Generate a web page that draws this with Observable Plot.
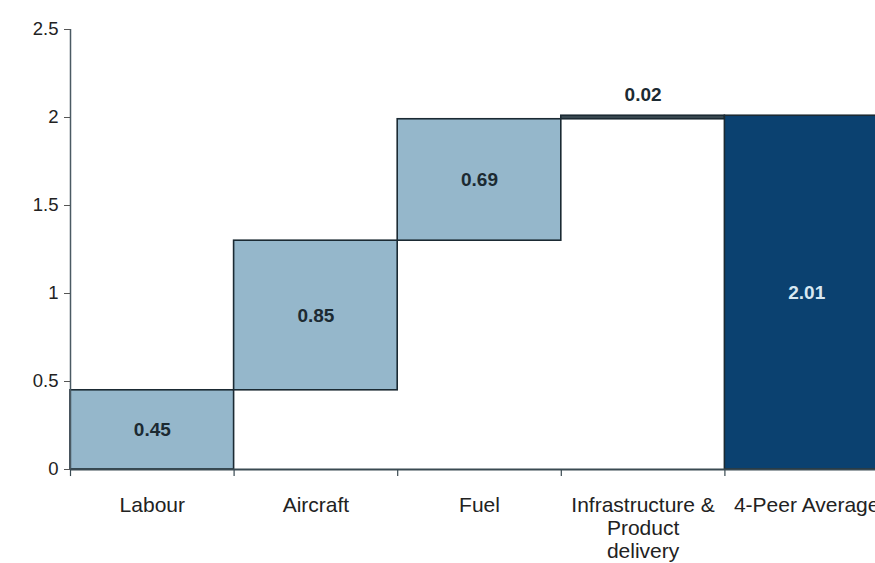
<!DOCTYPE html>
<html>
<head>
<meta charset="utf-8">
<script src="https://cdn.jsdelivr.net/npm/d3@7"></script>
<script src="https://cdn.jsdelivr.net/npm/@observablehq/plot@0.6"></script>
<style>
  html, body { margin: 0; padding: 0; background: #fff; }
  #chart svg { display: block; }
</style>
</head>
<body>
<div id="chart"></div>
<script>
const categories = ["Labour", "Aircraft", "Fuel", "Infrastructure &\nProduct\ndelivery", "4-Peer Average"];
const increments = [0.45, 0.85, 0.69, 0.02];
const totalValue = 2.01;
const valueLabels = ["0.45", "0.85", "0.69", "0.02", "2.01"];
const yTicks = [0, 0.5, 1, 1.5, 2, 2.5];

// Build waterfall table
let run = 0;
const bars = categories.map((c, i) => {
  if (i < increments.length) {
    const start = run;
    run += increments[i];
    return {i, cat: c, y1: start, y2: run, total: false, label: valueLabels[i]};
  }
  return {i, cat: c, y1: 0, y2: totalValue, total: true, label: valueLabels[i]};
});
const isThin = d => d.y2 - d.y1 < 0.1;
const boundaries = d3.range(categories.length);

const chart = Plot.plot({
  width: 875,
  height: 563,
  marginTop: 29,
  marginBottom: 94,
  marginLeft: 70,
  marginRight: 0,
  style: {fontFamily: "Liberation Sans, Arial, sans-serif", background: "#fff"},
  x: {type: "linear", domain: [0, categories.length], range: [70, 888], axis: null},
  y: {type: "linear", domain: [0, 2.5], axis: null},
  marks: [
    Plot.rect(bars, {
      x1: d => d.i, x2: d => d.i + 1, y1: "y1", y2: "y2",
      fill: d => d.total ? "#0b4170" : isThin(d) ? "#3a4a52" : "#95b7cb",
      stroke: "#1b2a33", strokeWidth: 1.6
    }),
    // y axis
    Plot.ruleX([0], {y1: 0, y2: 2.5, stroke: "#4a5a63", strokeWidth: 1.5}),
    Plot.axisY(yTicks, {tickSize: 6, tickFormat: d => String(d), fontSize: 18.5, color: "#222", stroke: "#555", tickPadding: 6}),
    // x axis line
    Plot.ruleY([0], {stroke: "#3a4a52", strokeWidth: 2.2}),
    Plot.ruleX(boundaries, {y1: 0, y2: -0.04, stroke: "#3a4a52", strokeWidth: 1.2}),
    // category labels
    Plot.text(bars, {
      x: d => d.i + 0.5, y: 0, text: "cat", lineAnchor: "top", dy: 26,
      fontSize: 21, lineHeight: 1.1, fill: "#222"
    }),
    // value labels inside bars
    Plot.text(bars.filter(d => !isThin(d)), {
      x: d => d.i + 0.5,
      y: d => (d.y1 + d.y2) / 2,
      text: "label",
      fontSize: 19, fontWeight: "bold",
      fill: d => d.total ? "#d8e8f2" : "#1c2a32"
    }),
    // value label above thin bar
    Plot.text(bars.filter(isThin), {
      x: d => d.i + 0.5,
      y: "y2",
      dy: -21,
      text: "label",
      fontSize: 19, fontWeight: "bold",
      fill: "#1c2a32"
    })
  ]
});
document.getElementById("chart").appendChild(chart);
</script>
</body>
</html>
